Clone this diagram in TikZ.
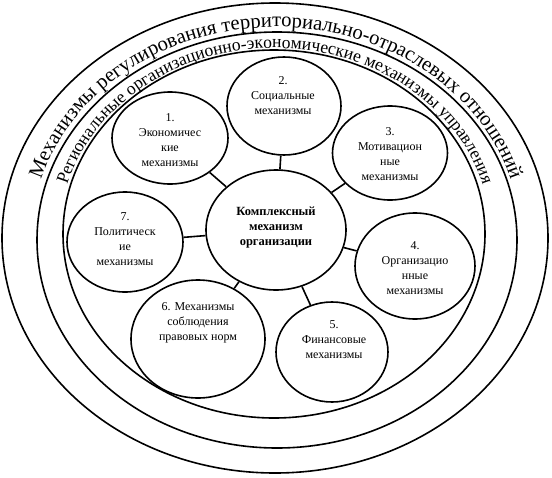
\documentclass[tikz,border=0pt]{standalone}
\usepackage{fontspec}
\setmainfont{Liberation Serif}
\usetikzlibrary{shapes.geometric,decorations.text}
\begin{document}
\begin{tikzpicture}[x=1pt,y=1pt,
 ring/.style={line width=1.6pt},
 ell/.style={ellipse, draw, line width=1.6pt, inner sep=0pt},
 conn/.style={line width=1.6pt},
 lbl/.style={align=center, font=\fontsize{12}{15}\selectfont},
 clbl/.style={align=center, font=\fontsize{12.5}{15}\selectfont\bfseries}]
\useasboundingbox (0,0) rectangle (552,-477);
% rings
\draw[ring] (275,-238) ellipse [x radius=273, y radius=235];
\draw[ring] (277,-240) ellipse [x radius=240, y radius=208];
\draw[ring] (274,-234) ellipse [x radius=211, y radius=184];
% ring texts
\path[decorate, decoration={text along path, text align=center,
  text={|\fontsize{20.6}{20.6}\selectfont|Механизмы регулирования территориально-отраслевых отношений}}]
  (276,-240) ++(166:245 and 213) arc[start angle=166, end angle=14, x radius=245, y radius=213];
\path[decorate, decoration={text along path, text align=center,
  text={|\fontsize{17.6}{17.6}\selectfont|Региональные организационно-экономические механизмы управления}}]
  (275,-236) ++(166:216 and 188) arc[start angle=166, end angle=14, x radius=216, y radius=188];
% ellipses
\node[ell, minimum width=140pt, minimum height=120pt] (c) at (276,-230) {};
\node[ell, minimum width=116pt, minimum height=92pt] (e1) at (170,-138) {};
\node[ell, minimum width=114pt, minimum height=98pt] (e2) at (284,-106) {};
\node[ell, minimum width=115pt, minimum height=94pt] (e3) at (390,-153) {};
\node[ell, minimum width=120pt, minimum height=106pt] (e4) at (415,-266) {};
\node[ell, minimum width=112pt, minimum height=100pt] (e5) at (332,-352) {};
\node[ell, minimum width=134pt, minimum height=118pt] (e6) at (198,-339) {};
\node[ell, minimum width=116pt, minimum height=100pt] (e7) at (125,-242) {};
% connectors
\foreach \e in {e1,e2,e3,e4,e5,e6,e7} \draw[conn] (c) -- (\e);
% labels
\node[clbl] (tc) at (276,-228) {Комплексный\\механизм\\организации};
\node[lbl] (t1) at (170,-140) {1.\\Экономичес\\кие\\механизмы};
\node[lbl] (t2) at (283,-96) {2.\\Социальные\\механизмы};
\node[lbl] (t3) at (390,-154) {3.\\Мотивацион\\ные\\механизмы};
\node[lbl] (t4) at (415,-268) {4.\\Организацио\\нные\\механизмы};
\node[lbl] (t5) at (334,-340) {5.\\Финансовые\\механизмы};
\node[lbl] (t6) at (198,-323) {6. Механизмы\\соблюдения\\правовых норм};
\node[lbl] (t7) at (125,-239) {7.\\Политическ\\ие\\механизмы};
\end{tikzpicture}
\end{document}
